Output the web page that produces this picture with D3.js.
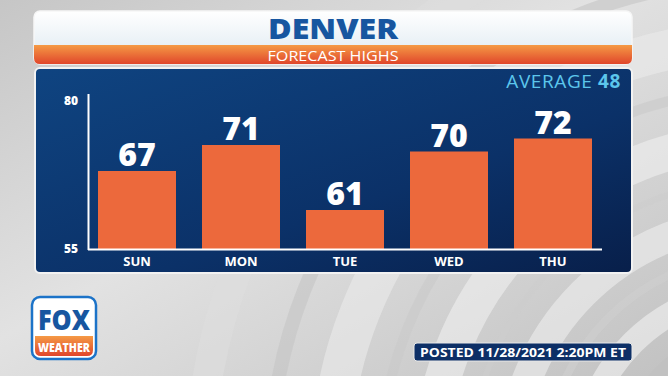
<!DOCTYPE html>
<html>
<head>
<meta charset="utf-8">
<script src="https://cdn.jsdelivr.net/npm/d3@7"></script>
<style>
  html, body { margin: 0; padding: 0; background: #d9d9d9; }
  svg { display: block; }
</style>
</head>
<body>
<svg id="chart" width="668" height="376"></svg>
<script>
// data
const days = ["SUN", "MON", "TUE", "WED", "THU"];
const highs = [67, 71, 61, 70, 72];
const axisTicks = [55, 80];
const cityName = "DENVER";
const subTitle = "FORECAST HIGHS";
const averageHigh = 48;
const postedText = "POSTED 11/28/2021 2:20PM ET";

const W = 668, H = 376;
const font = "'Open Sans', 'Noto Sans', sans-serif";
const svg = d3.select("#chart");
const defs = svg.append("defs");

// background gradient + swirls
let bg = defs.append("linearGradient").attr("id", "bg").attr("x1", 0).attr("y1", 0).attr("x2", 1).attr("y2", 1);
bg.append("stop").attr("offset", "0%").attr("stop-color", "#c6c6c6");
bg.append("stop").attr("offset", "45%").attr("stop-color", "#e2e2e2");
bg.append("stop").attr("offset", "100%").attr("stop-color", "#c2c2c2");
svg.append("rect").attr("width", W).attr("height", H).attr("fill", "url(#bg)");

const swirl = svg.append("g").attr("fill", "none");
const arcs = [
  {r: 180, c: "#f2f2f2", w: 24},
  {r: 215, c: "#cfcfcf", w: 8},
  {r: 250, c: "#eeeeee", w: 30},
  {r: 290, c: "#cdcdcd", w: 6},
  {r: 330, c: "#f0f0f0", w: 36},
  {r: 380, c: "#c9c9c9", w: 10},
  {r: 430, c: "#ebebeb", w: 40},
  {r: 490, c: "#c4c4c4", w: 14},
  {r: 140, c: "#bfbfbf", w: 12},
  {r: 560, c: "#dedede", w: 30}
];
arcs.forEach(a => {
  swirl.append("circle").attr("cx", 760).attr("cy", 470).attr("r", a.r)
    .attr("stroke", a.c).attr("stroke-width", a.w).attr("opacity", 0.6);
});

// title panel
let tw = defs.append("linearGradient").attr("id", "titleWhite").attr("x1", 0).attr("y1", 0).attr("x2", 0).attr("y2", 1);
tw.append("stop").attr("offset", "0%").attr("stop-color", "#ffffff");
tw.append("stop").attr("offset", "100%").attr("stop-color", "#dce8f0");
let to = defs.append("linearGradient").attr("id", "titleOrange").attr("x1", 0).attr("y1", 0).attr("x2", 0).attr("y2", 1);
to.append("stop").attr("offset", "0%").attr("stop-color", "#f59a45");
to.append("stop").attr("offset", "100%").attr("stop-color", "#e0462b");

svg.append("rect").attr("x", 34).attr("y", 11).attr("width", 598).attr("height", 53).attr("rx", 6)
  .attr("fill", "url(#titleWhite)").attr("stroke", "#f6f6f6").attr("stroke-width", 1.5);
svg.append("path")
  .attr("d", "M34,45 H632 V58 Q632,64 626,64 H40 Q34,64 34,58 Z")
  .attr("fill", "url(#titleOrange)");
svg.append("text").attr("x", 333).attr("y", 38.5).attr("text-anchor", "middle")
  .attr("font-family", font).attr("font-weight", 800).attr("font-size", 28)
  .attr("textLength", 130).attr("lengthAdjust", "spacingAndGlyphs")
  .attr("fill", "#1756a0").text(cityName);
svg.append("text").attr("x", 333).attr("y", 60.5).attr("text-anchor", "middle")
  .attr("font-family", font).attr("font-weight", 500).attr("font-size", 15)
  .attr("textLength", 131).attr("lengthAdjust", "spacingAndGlyphs")
  .attr("fill", "#ffffff").text(subTitle);

// chart panel
let pg = defs.append("linearGradient").attr("id", "panel").attr("x1", 0).attr("y1", 0).attr("x2", 1).attr("y2", 1);
pg.append("stop").attr("offset", "0%").attr("stop-color", "#0f4481");
pg.append("stop").attr("offset", "60%").attr("stop-color", "#0b3168");
pg.append("stop").attr("offset", "100%").attr("stop-color", "#081f4a");
svg.append("rect").attr("x", 35).attr("y", 68).attr("width", 597).attr("height", 205).attr("rx", 5)
  .attr("fill", "url(#panel)").attr("stroke", "#f2f2f2").attr("stroke-width", 2);

// scales
const x = d3.scaleBand().domain(days).range([98, 592]).paddingInner(0.25).paddingOuter(0);
const y = d3.scaleLinear().domain([55, 80]).range([249, 86.5]);

const g = svg.append("g");

g.selectAll("rect.bar").data(highs).join("rect")
  .attr("class", "bar")
  .attr("x", (d, i) => x(days[i]))
  .attr("y", d => y(d))
  .attr("width", x.bandwidth())
  .attr("height", d => y(55) - y(d))
  .attr("fill", "#ec693c");

g.selectAll("text.val").data(highs).join("text")
  .attr("class", "val")
  .attr("x", (d, i) => x(days[i]) + x.bandwidth() / 2)
  .attr("y", d => y(d) - 5)
  .attr("text-anchor", "middle")
  .attr("font-family", font).attr("font-weight", 800).attr("font-size", 32)
  .attr("fill", "#ffffff").text(d => d);

g.selectAll("text.day").data(days).join("text")
  .attr("class", "day")
  .attr("x", d => x(d) + x.bandwidth() / 2)
  .attr("y", y(55) + 17)
  .attr("text-anchor", "middle")
  .attr("font-family", font).attr("font-weight", 700).attr("font-size", 13)
  .attr("fill", "#ffffff").text(d => d);

// axes lines
g.append("line").attr("x1", 88.5).attr("x2", 88.5).attr("y1", y(80) + 7.5).attr("y2", y(55) + 1)
  .attr("stroke", "#ffffff").attr("stroke-width", 2);
g.append("line").attr("x1", 88).attr("x2", 602).attr("y1", y(55) + 0.5).attr("y2", y(55) + 0.5)
  .attr("stroke", "#ffffff").attr("stroke-width", 2);

g.selectAll("text.tick").data(axisTicks).join("text")
  .attr("class", "tick")
  .attr("x", 78)
  .attr("y", d => d === 80 ? y(d) + 18 : y(d) + 4)
  .attr("text-anchor", "end")
  .attr("font-family", font).attr("font-weight", 800).attr("font-size", 12)
  .attr("fill", "#ffffff").text(d => d);

// average
const avg = svg.append("text").attr("x", 621).attr("y", 88).attr("text-anchor", "end")
  .attr("font-family", font).attr("font-size", 19).attr("letter-spacing", 0.6).attr("fill", "#5cc6ec");
avg.append("tspan").attr("font-weight", 500).text("AVERAGE ");
avg.append("tspan").attr("font-weight", 700).text(averageHigh);

// logo
const logo = svg.append("g");
logo.append("rect").attr("x", 32).attr("y", 297).attr("width", 64).attr("height", 62).attr("rx", 8)
  .attr("fill", "#ffffff").attr("stroke", "#1c73c8").attr("stroke-width", 2.5);
logo.append("path")
  .attr("d", "M35,336 H93 V350 Q93,356 87,356 H41 Q35,356 35,350 Z")
  .attr("fill", "url(#titleOrange)");
logo.append("text").attr("x", 64).attr("y", 329.5).attr("text-anchor", "middle")
  .attr("font-family", font).attr("font-weight", 800).attr("font-size", 28)
  .attr("textLength", 52).attr("lengthAdjust", "spacingAndGlyphs")
  .attr("fill", "#1756a0").text("FOX");
logo.append("text").attr("x", 64).attr("y", 352).attr("text-anchor", "middle")
  .attr("font-family", font).attr("font-weight", 800).attr("font-size", 13)
  .attr("textLength", 52).attr("lengthAdjust", "spacingAndGlyphs")
  .attr("fill", "#ffffff").text("WEATHER");

// posted badge
svg.append("rect").attr("x", 414).attr("y", 343).attr("width", 218).attr("height", 18).attr("rx", 3)
  .attr("fill", "#0d2f66").attr("stroke", "#e8e8e8").attr("stroke-width", 1);
svg.append("text").attr("x", 523).attr("y", 357).attr("text-anchor", "middle")
  .attr("font-family", font).attr("font-weight", 700).attr("font-size", 13)
  .attr("textLength", 206).attr("lengthAdjust", "spacingAndGlyphs")
  .attr("fill", "#ffffff").text(postedText);
</script>
</body>
</html>
